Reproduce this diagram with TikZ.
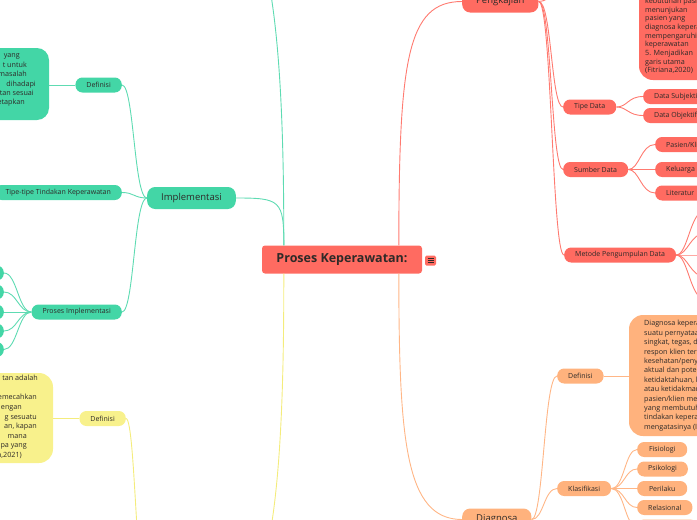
\documentclass[tikz,border=0pt]{standalone}
\usepackage{fontspec}
\setmainfont{Open Sans}
\usetikzlibrary{calc}
\definecolor{rfill}{HTML}{FF6B61}
\definecolor{rline}{HTML}{FF7A70}
\definecolor{tfill}{HTML}{43D6A6}
\definecolor{tline}{HTML}{5EDBB2}
\definecolor{yfill}{HTML}{F8F18C}
\definecolor{yline}{HTML}{F4EC7C}
\definecolor{ofill}{HTML}{FFB27D}
\definecolor{oline}{HTML}{FFB686}
\definecolor{txt}{HTML}{2E2A28}
\begin{document}
\begin{tikzpicture}[x=1pt,y=-1pt,
  pill/.style={rounded corners=7pt, minimum height=15pt, inner ysep=0pt, inner xsep=11pt, font=\fontsize{7}{8}\selectfont, text=txt},
  rpill/.style={pill, fill=rfill},
  tpill/.style={pill, fill=tfill},
  ypill/.style={pill, fill=yfill},
  opill/.style={pill, fill=ofill},
  mainn/.style={rounded corners=8pt, minimum height=22pt, inner ysep=0pt, inner xsep=14pt, font=\fontsize{9.5}{11}\selectfont, text=txt},
  bigbox/.style={rounded corners=14pt, inner sep=0pt},
  boxtxt/.style={inner sep=0pt, text height=5.2pt, text depth=1.6pt, font=\fontsize{7.2}{8}\selectfont, text=txt},
  rl/.style={draw=rline, line width=0.9pt},
  tl/.style={draw=tline, line width=0.9pt},
  yl/.style={draw=yline, line width=0.9pt},
  ol/.style={draw=oline, line width=0.9pt}]
\useasboundingbox (0,0) rectangle (697,520);
\clip (0,0) rectangle (697,520);

% ---------- central node ----------
\node[fill=rfill, rounded corners=3pt, minimum width=160pt, minimum height=28pt, inner sep=0pt,
      font=\bfseries\fontsize{12.5}{14}\selectfont, text=txt] (c) at (342,259.5) {Proses Keperawatan:};
\node[fill=rfill, rounded corners=1.5pt, minimum width=11pt, minimum height=10pt, inner sep=0pt] (ic) at (430.5,260.5) {};
\draw[txt, line width=0.6pt] ($(ic.center)+(-3,-2.2)$) -- ++(6,0) ($(ic.center)+(-3,0)$) -- ++(6,0) ($(ic.center)+(-3,2.2)$) -- ++(6,0);
\coordinate (cRt) at ($(c.north west)+(137,0)$);
\coordinate (cRb) at ($(c.south west)+(137,0)$);
\coordinate (cLt) at ($(c.north west)+(22,0)$);
\coordinate (cLb) at ($(c.south west)+(22,0)$);

% ---------- red branch: Pengkajian ----------
\node[mainn, fill=rfill, anchor=west] (pk) at (462,1.5) {Pengkajian};
\node[bigbox, fill=rfill, minimum width=130pt, minimum height=190pt] (rbox) at (704,-15) {};
\foreach \t [count=\i from 0] in {kebutuhan pasien, menunjukan, pasien yang, diagnosa keperawatan, mempengaruhi, keperawatan, 5. Menjadikan, garis utama, {(Fitriana,2020)}}
  \node[boxtxt, anchor=west] (rt\i) at (645,{1.5+8.7*\i}) {\t};
\node[rpill, anchor=west] (td) at (563,107) {Tipe Data};
\node[rpill, anchor=west] (ds) at (643,96.5) {Data Subjektif};
\node[rpill, anchor=west] (do) at (643,115.5) {Data Objektif};
\node[rpill, anchor=west] (sd) at (563,169.5) {Sumber Data};
\node[rpill, anchor=west] (s1) at (655,144.5) {Pasien/Klien};
\node[rpill, anchor=west] (s2) at (655,169.5) {Keluarga};
\node[rpill, anchor=west] (s3) at (655,193) {Literatur};
\node[rpill, anchor=west] (mp) at (564,255) {Metode Pengumpulan Data};
\coordinate (m1) at (706,210);
\coordinate (m2) at (706,233);
\coordinate (m3) at (706,255);
\coordinate (m4) at (706,277);
\coordinate (m5) at (706,300);

\draw[rl] (cRt) .. controls (399,60) and (407,1.5) .. (pk.west);
\draw[rl] (pk.east) .. controls +(13,0) and +(-88,0) .. (rbox.west);
\foreach \n in {td,sd,mp}
  \draw[rl] (pk.east) .. controls +(13,0) and +(-12,0) .. (\n.west);
\foreach \n in {ds,do}
  \draw[rl] (td.east) .. controls +(11,0) and +(-15,0) .. (\n.west);
\foreach \n in {s1,s2,s3}
  \draw[rl] (sd.east) .. controls +(11,0) and +(-14,0) .. (\n.west);
\foreach \n in {m1,m2,m3,m4,m5}
  \draw[rl] (mp.east) .. controls +(12,0) and +(-16,0) .. (\n);

% ---------- orange branch: Diagnosa ----------
\node[mainn, fill=ofill, anchor=west] (dg) at (462,519.5) {Diagnosa};
\node[opill, anchor=west] (odef) at (557,376) {Definisi};
\node[bigbox, fill=ofill, minimum width=140pt, minimum height=121pt] (obox) at (699,375.5) {};
\foreach \t [count=\i from 0] in {Diagnosa keperawatan, suatu pernyataan, {singkat, tegas, dan}, respon klien terhadap, kesehatan/penyakit, aktual dan potensial, {ketidaktahuan, kurang}, atau ketidakmampuan, pasien/klien mengatasi, yang membutuhkan, tindakan keperawatan, mengatasinya (Irwan}
  \node[boxtxt, anchor=west] (ot\i) at (644,{324+9.4*\i}) {\t};
\node[opill, anchor=west] (kl) at (557,488.5) {Klasifikasi};
\node[opill, anchor=west, minimum width=50pt] (k1) at (637,449.5) {Fisiologi};
\node[opill, anchor=west, minimum width=50pt] (k2) at (637,469) {Psikologi};
\node[opill, anchor=west, minimum width=50pt] (k3) at (637,488.5) {Perilaku};
\node[opill, anchor=west] (k4) at (637,507.5) {Relasional};
\node[opill, anchor=west, minimum width=60pt] (k5) at (637,527) {};

\draw[ol] (cRb) .. controls (399,440) and (405,519.5) .. (dg.west);
\foreach \n in {odef,kl}
  \draw[ol] (dg.east) .. controls +(12,0) and +(-13,0) .. (\n.west);
\draw[ol] (odef.east) -- (odef.east -| obox.west);
\foreach \n in {k1,k2,k3,k4,k5}
  \draw[ol] (kl.east) .. controls +(13,0) and +(-12,0) .. (\n.west);

% ---------- teal branch: Implementasi ----------
\node[mainn, fill=tfill, anchor=east] (im) at (236,198) {Implementasi};
\node[tpill, anchor=east] (tdef) at (122,85) {Definisi};
\node[bigbox, rounded corners=12pt, fill=tfill, minimum width=100pt, minimum height=72pt] (tbox) at (-1,84) {};
\node[boxtxt, anchor=east] (tt1) at (20,56) {yang};
\node[boxtxt, anchor=east] (tt2) at (27,65.5) {t untuk};
\node[boxtxt, anchor=east] (tt3) at (27,75) {i masalah};
\node[boxtxt, anchor=east] (tt4) at (36,84.5) {dihadapi};
\node[boxtxt, anchor=east] (tt5) at (34,94) {tan sesuai};
\node[boxtxt, anchor=east] (tt6) at (25,103) {etapkan};
\node[tpill, anchor=east] (ttip) at (122,192.5) {Tipe-tipe Tindakan Keperawatan};
\node[tpill, anchor=east] (tpi) at (122,312) {Proses Implementasi};
\foreach \y [count=\i] in {273,292,312,331,349.5}
  \node[tpill, anchor=east, minimum width=30pt] (pl\i) at (4,\y) {};
\coordinate (tR) at (230,-100);

\draw[tl] (cLt) .. controls (284,200) and (280,198) .. (im.east);
\draw[tl] (cLt) .. controls (284,80) and (276,-80) .. (tR);
\foreach \n in {tdef,ttip,tpi}
  \draw[tl] (im.west) .. controls +(-13,0) and +(12,0) .. (\n.east);
\draw[tl] (tdef.west) -- (tdef.west -| tbox.east);
\foreach \i in {1,...,5}
  \draw[tl] (tpi.west) .. controls +(-13,0) and +(13,0) .. (pl\i.east);

% ---------- yellow branch ----------
\node[ypill, anchor=east] (ydef) at (126,418.5) {Definisi};
\node[bigbox, fill=yfill, minimum width=120pt, minimum height=90pt] (ybox) at (-7,418) {};
\node[boxtxt, anchor=east] (yt1) at (38,379) {tan adalah};
\node[boxtxt, anchor=east] (yt2) at (37,398) {emecahkan};
\node[boxtxt, anchor=east] (yt3) at (22,408) {engan};
\node[boxtxt, anchor=east] (yt4) at (37,417.5) {g sesuatu};
\node[boxtxt, anchor=east] (yt5) at (37,427) {an, kapan};
\node[boxtxt, anchor=east] (yt6) at (27,436.5) {mana};
\node[boxtxt, anchor=east] (yt7) at (27,446) {pa yang};
\node[boxtxt, anchor=east] (yt8) at (22,455.5) {a,2021)};
\coordinate (yR) at (230,620);
\coordinate (yL) at (150,620);

\draw[yl] (cLb) .. controls (284,450) and (276,600) .. (yR);
\draw[yl] (yL) .. controls +(-14,0) and +(10,0) .. (ydef.east);
\draw[yl] (ydef.west) -- (ydef.west -| ybox.east);
\end{tikzpicture}
\end{document}
